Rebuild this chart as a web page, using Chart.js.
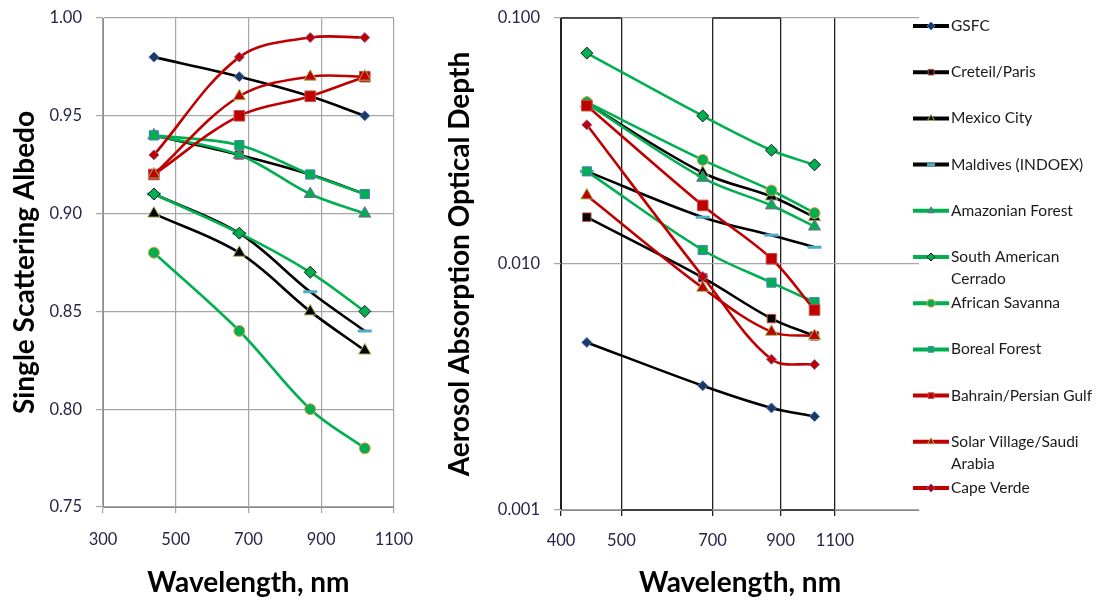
<!DOCTYPE html>
<html>
<head>
<meta charset="utf-8">
<script src="https://cdn.jsdelivr.net/npm/chart.js@4.4.0/dist/chart.umd.min.js"></script>
<style>
  html, body { margin: 0; padding: 0; background: #fff; }
  #wrap { position: relative; width: 1108px; height: 603px; }
  #left { position: absolute; left: 0; top: 0; width: 430px; height: 603px; }
  #right { position: absolute; left: 430px; top: 0; width: 678px; height: 603px; }
</style>
</head>
<body>
<div id="wrap">
  <div id="left"><canvas id="ssaChart"></canvas></div>
  <div id="right"><canvas id="aaodChart"></canvas></div>
</div>
<script>
// Longueurs d'onde AERONET (nm)
const wavelengths = [440, 675, 870, 1020];

// Noms des sites (le \n sert au retour à la ligne de la légende)
const siteNames = [
    "GSFC",
    "Creteil/Paris",
    "Mexico City",
    "Maldives (INDOEX)",
    "Amazonian Forest",
    "South American\nCerrado",
    "African Savanna",
    "Boreal Forest",
    "Bahrain/Persian Gulf",
    "Solar Village/Saudi\nArabia",
    "Cape Verde",
];

// Albédo de diffusion simple, par site
const ssaGSFC = [0.98, 0.97, 0.96, 0.95];
const ssaCreteil = [0.94, 0.93, 0.92, 0.91];
const ssaMexico = [0.90, 0.88, 0.85, 0.83];
const ssaMaldives = [0.91, 0.89, 0.86, 0.84];
const ssaAmazon = [0.94, 0.93, 0.91, 0.90];
const ssaCerrado = [0.91, 0.89, 0.87, 0.85];
const ssaSavanna = [0.88, 0.84, 0.80, 0.78];
const ssaBoreal = [0.94, 0.935, 0.92, 0.91];
const ssaBahrain = [0.92, 0.95, 0.96, 0.97];
const ssaSolar = [0.92, 0.96, 0.97, 0.97];
const ssaCapeVerde = [0.93, 0.98, 0.99, 0.99];

// Épaisseur optique d'absorption, par site
const aaodGSFC = [0.0048, 0.0032, 0.0026, 0.0024];
const aaodCreteil = [0.0155, 0.0088, 0.0060, 0.0051];
const aaodMexico = [0.045, 0.0235, 0.0188, 0.0155];
const aaodMaldives = [0.0238, 0.0155, 0.0131, 0.0117];
const aaodAmazon = [0.045, 0.0224, 0.0173, 0.0142];
const aaodCerrado = [0.072, 0.040, 0.029, 0.0253];
const aaodSavanna = [0.0455, 0.0265, 0.0199, 0.0161];
const aaodBoreal = [0.0238, 0.0114, 0.0084, 0.0070];
const aaodBahrain = [0.044, 0.0173, 0.0105, 0.0065];
const aaodSolar = [0.019, 0.0080, 0.0053, 0.0051];
const aaodCapeVerde = [0.0368, 0.0089, 0.0041, 0.0039];

// Graduations
const ssaXTicks = [300, 500, 700, 900, 1100];
const ssaYTicks = [0.75, 0.80, 0.85, 0.90, 0.95, 1.00];
const aaodXTicks = [400, 500, 700, 900, 1100];
const aaodYTicks = [0.001, 0.01, 0.1];

const ssaSeries = [ssaGSFC, ssaCreteil, ssaMexico, ssaMaldives, ssaAmazon, ssaCerrado,
    ssaSavanna, ssaBoreal, ssaBahrain, ssaSolar, ssaCapeVerde];
const aaodSeries = [aaodGSFC, aaodCreteil, aaodMexico, aaodMaldives, aaodAmazon, aaodCerrado,
    aaodSavanna, aaodBoreal, aaodBahrain, aaodSolar, aaodCapeVerde];

const BLACK = "#000000";
const GREEN = "#00B050";
const RED = "#C00000";

// Style de chaque site : couleur du trait et marqueur
const siteStyles = [
    { line: BLACK, style: "rectRot", fill: "#1F3864", border: "#4472C4", r: 5 },
    { line: BLACK, style: "rect", fill: "#000000", border: "#C0504D", r: 6 },
    { line: BLACK, style: "triangle", fill: "#000000", border: "#9BBB59", r: 7 },
    { line: BLACK, style: "line", fill: "#4BACC6", border: "#4BACC6", r: 7 },
    { line: GREEN, style: "triangle", fill: "#00B050", border: "#8064A2", r: 7 },
    { line: GREEN, style: "rectRot", fill: "#00B050", border: "#1a1a1a", r: 6 },
    { line: GREEN, style: "circle", fill: "#00B050", border: "#F79646", r: 5.5 },
    { line: GREEN, style: "rect", fill: "#00B050", border: "#4F81BD", r: 6.5 },
    { line: RED, style: "rect", fill: "#C00000", border: "#C0504D", r: 7.5 },
    { line: RED, style: "triangle", fill: "#C00000", border: "#9BBB59", r: 7 },
    { line: RED, style: "rectRot", fill: "#C00000", border: "#8064A2", r: 5 },
];

const FONT = "Lato, 'Open Sans', sans-serif";
const TICK_COLOR = "#26264a";
const TICK_FONT = { family: FONT, size: 16.5 };

function buildDatasets(series) {
    return series.map((values, i) => {
        const s = siteStyles[i];
        return {
            label: siteNames[i].replace("\n", " "),
            legendText: siteNames[i].split("\n"),
            data: wavelengths.map((w, j) => ({ x: w, y: values[j] })),
            // comme Excel : la dernière série est dessinée par-dessus
            order: series.length - i,
            borderColor: s.line,
            borderWidth: 2.6,
            tension: 0.35,
            pointStyle: s.style,
            pointRadius: s.r,
            pointBackgroundColor: s.fill,
            pointBorderColor: s.border,
            pointBorderWidth: s.style === "line" ? 3 : 1,
        };
    });
}

// Lignes noires en zigzag du graphique de droite
const zigzagPlugin = {
    id: "zigzag",
    afterDatasetsDraw(chart) {
        const { ctx, chartArea, scales } = chart;
        ctx.save();
        ctx.strokeStyle = "#222";
        ctx.lineWidth = 1.3;
        for (let i = 0; i < aaodXTicks.length - 1; i++) {
            const x0 = scales.x.getPixelForValue(aaodXTicks[i]);
            const x1 = scales.x.getPixelForValue(aaodXTicks[i + 1]);
            const y = i % 2 === 0 ? chartArea.top : chartArea.bottom;
            ctx.beginPath();
            ctx.moveTo(x0, y);
            ctx.lineTo(x1, y);
            ctx.stroke();
        }
        ctx.restore();
    },
};

// Légende façon Excel : trait épais + marqueur
const legendPlugin = {
    id: "excelLegend",
    afterDraw(chart) {
        const { ctx, chartArea } = chart;
        const x0 = chartArea.right - 6;
        const x1 = x0 + 36;
        const top = 26;
        const step = 46.2;
        ctx.save();
        ctx.font = "15.5px " + FONT;
        ctx.textBaseline = "middle";
        chart.data.datasets.forEach((ds, i) => {
            const y = top + i * step;
            ctx.strokeStyle = ds.borderColor;
            ctx.lineWidth = 4;
            ctx.beginPath();
            ctx.moveTo(x0, y);
            ctx.lineTo(x1, y);
            ctx.stroke();
            ctx.fillStyle = ds.pointBackgroundColor;
            ctx.strokeStyle = ds.pointBorderColor;
            ctx.lineWidth = ds.pointBorderWidth;
            Chart.helpers.drawPoint(ctx, {
                pointStyle: ds.pointStyle,
                radius: 4,
                rotation: 0,
                borderWidth: ds.pointBorderWidth,
            }, (x0 + x1) / 2, y);
            ctx.fillStyle = "#1a1a1a";
            ds.legendText.forEach((line, k) => {
                ctx.fillText(line, x1 + 2, y + k * 22);
            });
        });
        ctx.restore();
    },
};

function axisTitle(text, padding) {
    return {
        display: true,
        text: text,
        color: "#000",
        font: { family: FONT, size: 28, weight: "bold" },
        padding: padding,
    };
}

// Largeur fixe de l'axe Y, sans marge ajoutée pour les étiquettes
function fixYAxis(width) {
    return scale => {
        scale.width = width;
        scale.paddingTop = 0;
        scale.paddingBottom = 0;
    };
}

new Chart(document.getElementById("ssaChart"), {
    type: "line",
    data: { datasets: buildDatasets(ssaSeries) },
    options: {
        responsive: true,
        maintainAspectRatio: false,
        animation: false,
        layout: { padding: { left: 0, top: 18, right: 29, bottom: 0 } },
        plugins: { legend: { display: false }, tooltip: { enabled: false } },
        scales: {
            x: {
                type: "linear",
                min: 300,
                max: 1100,
                afterBuildTicks: scale => { scale.ticks = ssaXTicks.map(v => ({ value: v })); },
                afterFit: scale => { scale.height = 96; },
                ticks: { color: TICK_COLOR, font: TICK_FONT, padding: 17, maxRotation: 0, callback: v => String(v) },
                grid: { color: "#a6a6a6", tickLength: 6, lineWidth: 1.2 },
                border: { color: "#8c8c8c" },
                title: axisTitle("Wavelength, nm", { bottom: 3 }),
            },
            y: {
                min: 0.75,
                max: 1.0,
                afterBuildTicks: scale => { scale.ticks = ssaYTicks.map(v => ({ value: v })); },
                afterFit: fixYAxis(103),
                ticks: {
                    color: TICK_COLOR,
                    font: TICK_FONT,
                    padding: 14,
                    callback: v => Number(v).toFixed(2),
                },
                grid: { color: "#a6a6a6", tickLength: 7, lineWidth: 1.2 },
                border: { color: "#8c8c8c" },
                title: axisTitle("Single Scattering Albedo", { top: 8 }),
            },
        },
    },
});

new Chart(document.getElementById("aaodChart"), {
    type: "line",
    data: { datasets: buildDatasets(aaodSeries) },
    options: {
        responsive: true,
        maintainAspectRatio: false,
        animation: false,
        layout: { padding: { left: 0, top: 18, right: 189, bottom: 0 } },
        plugins: { legend: { display: false }, tooltip: { enabled: false } },
        scales: {
            x: {
                type: "logarithmic",
                min: 400,
                max: 1500,
                afterBuildTicks: scale => { scale.ticks = aaodXTicks.map(v => ({ value: v })); },
                afterFit: scale => { scale.height = 93; },
                ticks: {
                    color: TICK_COLOR,
                    font: TICK_FONT,
                    padding: 15,
                    autoSkip: false,
                    maxRotation: 0,
                    callback: v => String(v),
                },
                grid: { color: "#222", tickLength: 6, lineWidth: 1.3 },
                border: { color: "#8c8c8c" },
                title: axisTitle("Wavelength, nm", { bottom: 3 }),
            },
            y: {
                type: "logarithmic",
                min: 0.001,
                max: 0.1,
                afterBuildTicks: scale => { scale.ticks = aaodYTicks.map(v => ({ value: v })); },
                afterFit: fixYAxis(131),
                ticks: {
                    color: TICK_COLOR,
                    font: TICK_FONT,
                    padding: 14,
                    autoSkip: false,
                    callback: v => Number(v).toFixed(3),
                },
                grid: { color: "#a6a6a6", tickLength: 7, lineWidth: 1.2 },
                border: { color: "#222" },
                title: axisTitle("Aerosol Absorption Optical Depth", { top: 13 }),
            },
        },
    },
    plugins: [zigzagPlugin, legendPlugin],
});
</script>
</body>
</html>
